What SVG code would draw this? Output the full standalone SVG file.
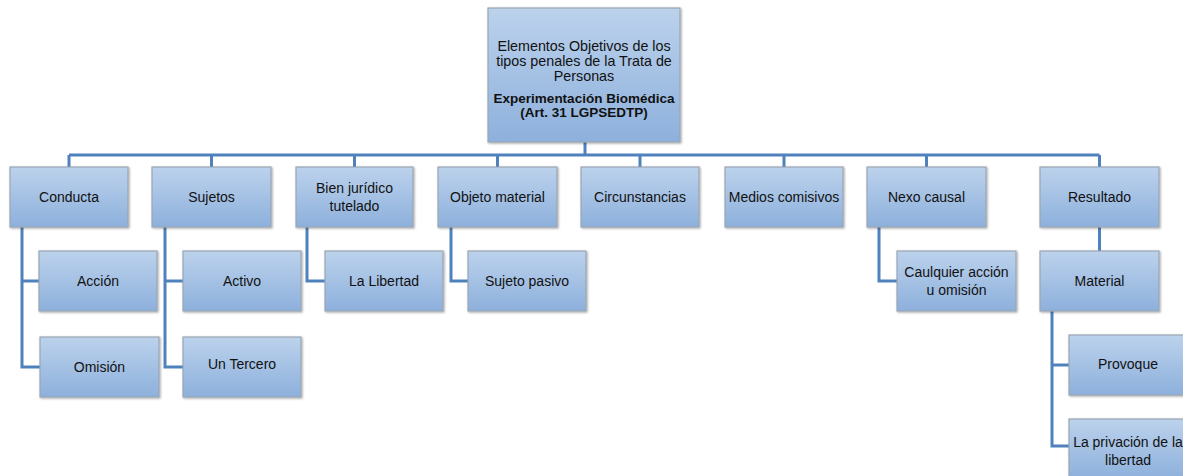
<svg xmlns="http://www.w3.org/2000/svg" width="1183" height="476" viewBox="0 0 1183 476">
<defs>
<linearGradient id="g" x1="0" y1="0" x2="0" y2="1">
<stop offset="0" stop-color="#bcd2ec"/>
<stop offset="1" stop-color="#8db0dc"/>
</linearGradient>
<filter id="sh" x="-10%" y="-10%" width="130%" height="130%">
<feDropShadow dx="1" dy="1" stdDeviation="0.8" flood-color="#000" flood-opacity="0.35"/>
</filter>
</defs>
<style>
rect.n{fill:url(#g);stroke:#9aa6b4;stroke-width:1.2;filter:url(#sh)}
text{font-family:"Liberation Sans",Arial,sans-serif;font-size:14px;fill:#111;text-anchor:middle}
text.r{font-size:14.3px}
text.b{font-weight:bold;font-size:13.5px}
.c path{fill:none;stroke:#4f81bd;stroke-width:3}
</style>
<g class="c" id="connectors">
<path d="M585 142V155M69 155H1099.5M69 155V167M211.5 155V167M354.5 155V167M497.5 155V167M640 155V167M784 155V167M926.5 155V167M1099.5 155V167"/>
<path d="M22 227V367H40M22 281H39"/>
<path d="M165 227V367H183M165 281H183"/>
<path d="M307 227V281H325"/>
<path d="M451 227V281H468"/>
<path d="M879 227V281H897"/>
<path d="M1099.5 227V251"/>
<path d="M1052 311V446H1069M1052 365H1069"/>
</g>
<g id="root"><rect class="n" x="488" y="8" width="192" height="134"/>
<text class="r" x="584" y="51">Elementos Objetivos de los</text>
<text class="r" x="584" y="66">tipos penales de la Trata de</text>
<text class="r" x="584" y="81">Personas</text>
<text class="b" x="584" y="103">Experimentación Biomédica</text>
<text class="b" x="584" y="117">(Art. 31 LGPSEDTP)</text></g>
<g id="conducta"><rect class="n" x="10" y="167" width="118" height="60"/><text x="69" y="202">Conducta</text></g>
<g id="sujetos"><rect class="n" x="152" y="167" width="119" height="60"/><text x="211.5" y="202">Sujetos</text></g>
<g id="bien"><rect class="n" x="296" y="167" width="117" height="60"/><text x="354.5" y="193">Bien jurídico</text><text x="354.5" y="211">tutelado</text></g>
<g id="objeto"><rect class="n" x="438" y="167" width="119" height="60"/><text x="497.5" y="202">Objeto material</text></g>
<g id="circ"><rect class="n" x="581" y="167" width="118" height="60"/><text x="640" y="202">Circunstancias</text></g>
<g id="medios"><rect class="n" x="725" y="167" width="118" height="60"/><text x="784" y="202">Medios comisivos</text></g>
<g id="nexo"><rect class="n" x="867" y="167" width="119" height="60"/><text x="926.5" y="202">Nexo causal</text></g>
<g id="resultado"><rect class="n" x="1040" y="167" width="119" height="60"/><text x="1099.5" y="202">Resultado</text></g>
<g id="accion"><rect class="n" x="39" y="251" width="118" height="60"/><text x="98" y="286">Acción</text></g>
<g id="omision"><rect class="n" x="40" y="337" width="119" height="60"/><text x="99.5" y="372">Omisión</text></g>
<g id="activo"><rect class="n" x="183" y="251" width="118" height="60"/><text x="242" y="286">Activo</text></g>
<g id="tercero"><rect class="n" x="183" y="337" width="118" height="60"/><text x="242" y="369">Un Tercero</text></g>
<g id="libertad"><rect class="n" x="325" y="251" width="118" height="60"/><text x="384" y="286">La Libertad</text></g>
<g id="pasivo"><rect class="n" x="468" y="251" width="118" height="60"/><text x="527" y="286">Sujeto pasivo</text></g>
<g id="caulquier"><rect class="n" x="897" y="251" width="119" height="60"/><text x="956.5" y="277">Caulquier acción</text><text x="956.5" y="295">u omisión</text></g>
<g id="material"><rect class="n" x="1040" y="251" width="119" height="60"/><text x="1099.5" y="286">Material</text></g>
<g id="provoque"><rect class="n" x="1069" y="335" width="118" height="60"/><text x="1128" y="369">Provoque</text></g>
<g id="privacion"><rect class="n" x="1069" y="419" width="118" height="60"/><text x="1128" y="447">La privación de la</text><text x="1128" y="465">libertad</text></g>
</svg>
